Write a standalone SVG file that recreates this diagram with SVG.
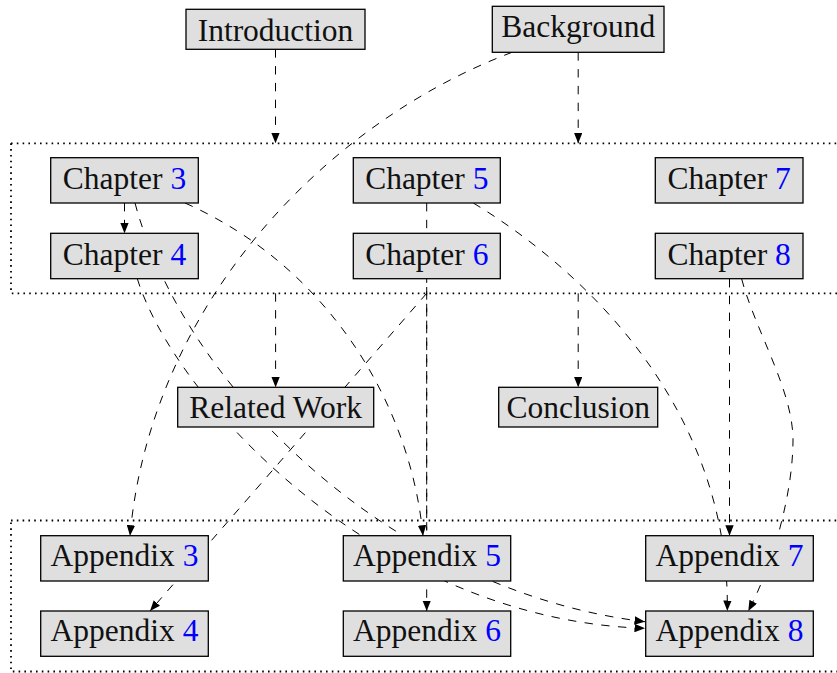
<svg xmlns="http://www.w3.org/2000/svg" width="837" height="673" viewBox="0 0 837 673">
<style>
.box{fill:#dfdfdf;stroke:#000;stroke-width:1.3}
.lbl{font-family:"Liberation Serif","Times New Roman",serif;font-size:31.5px;fill:#111;text-anchor:middle}
.num{fill:#0000ff}
.edge{fill:none;stroke:#000;stroke-width:1;stroke-dasharray:8.4 8.4}
.arr{marker-end:url(#ah)}
.group{fill:none;stroke:#000;stroke-width:1.8;stroke-dasharray:1.6 4.2}
</style>
<defs>
<marker id="ah" markerUnits="userSpaceOnUse" viewBox="0 0 10 8" refX="10" refY="4" markerWidth="10.5" markerHeight="8.5" orient="auto">
<path d="M0,0 L10,4 L0,8 z" fill="#000"/>
</marker>
</defs>
<rect width="837" height="673" fill="#fff"/>
<g id="containers">
<rect id="chapters" class="group" x="11" y="143.3" width="831" height="150"/>
<rect id="appendices" class="group" x="11" y="520.5" width="831" height="151"/>
</g>
<g id="connectors">
<path class="edge arr" d="M275.5,49.3 L275.5,143.3"/>
<path class="edge arr" d="M578.2,52.3 L578.2,143.3"/>
<path class="edge arr" d="M512,52.3 C320,125 150,310 130,535.7"/>
<path class="edge arr" d="M124.5,203 L124.5,233.3"/>
<path class="edge arr" d="M135,203 C185,390 395,592 645,621.7"/>
<path class="edge arr" d="M137.3,278.7 C175,400 380,620 645,628.3"/>
<path class="edge arr" d="M185,203 C325,265 410,400 423,535.7"/>
<path class="edge arr" d="M426.7,293.3 L150,611"/>
<path class="edge arr" d="M275.6,293.3 L275.6,387.3"/>
<path class="edge arr" d="M578.2,293.3 L578.2,387.3"/>
<path class="edge arr" d="M426.7,203 L426.7,611"/>
<path class="edge" style="stroke-dashoffset:4.2" d="M426.7,278.7 L426.7,530"/>
<path class="edge arr" d="M473.3,203 C600,280 730,420 727.3,611"/>
<path class="edge arr" d="M729.5,279 L729.5,535.7"/>
<path class="edge arr" d="M741.7,279 C755,330 793,390 793,440 C793,490 775,560 748.3,611"/>
</g>
<g id="introduction"><rect class="box" x="186" y="9.3" width="179" height="40"/><text class="lbl" x="275.5" y="40.7">Introduction</text></g>
<g id="background"><rect class="box" x="492.3" y="6.3" width="171.7" height="46"/><text class="lbl" x="578.2" y="37.3">Background</text></g>
<g id="chapter3"><rect class="box" x="50.7" y="157.7" width="147.6" height="45.3"/><text class="lbl" x="124.5" y="189">Chapter <tspan class="num">3</tspan></text></g>
<g id="chapter4"><rect class="box" x="50.7" y="233.3" width="147.6" height="45.4"/><text class="lbl" x="124.5" y="264.7">Chapter <tspan class="num">4</tspan></text></g>
<g id="chapter5"><rect class="box" x="353.3" y="157.7" width="147" height="45.3"/><text class="lbl" x="426.8" y="189">Chapter <tspan class="num">5</tspan></text></g>
<g id="chapter6"><rect class="box" x="353.3" y="233.3" width="147" height="45.4"/><text class="lbl" x="426.8" y="264.7">Chapter <tspan class="num">6</tspan></text></g>
<g id="chapter7"><rect class="box" x="655.3" y="157.7" width="147.7" height="45.3"/><text class="lbl" x="729.2" y="189">Chapter <tspan class="num">7</tspan></text></g>
<g id="chapter8"><rect class="box" x="655.3" y="233.3" width="147.7" height="45.4"/><text class="lbl" x="729.2" y="264.7">Chapter <tspan class="num">8</tspan></text></g>
<g id="related-work"><rect class="box" x="177.7" y="387.3" width="196" height="39.7"/><text class="lbl" x="275.7" y="418.3">Related Work</text></g>
<g id="conclusion"><rect class="box" x="498.7" y="387.3" width="159" height="39.7"/><text class="lbl" x="578.2" y="418.3">Conclusion</text></g>
<g id="appendix3"><rect class="box" x="40.7" y="535.7" width="167.6" height="45.3"/><text class="lbl" x="124.5" y="566">Appendix <tspan class="num">3</tspan></text></g>
<g id="appendix4"><rect class="box" x="40.7" y="611" width="167.6" height="45.3"/><text class="lbl" x="124.5" y="641">Appendix <tspan class="num">4</tspan></text></g>
<g id="appendix5"><rect class="box" x="343.3" y="535.7" width="167.4" height="45.3"/><text class="lbl" x="427" y="566">Appendix <tspan class="num">5</tspan></text></g>
<g id="appendix6"><rect class="box" x="343.3" y="611" width="167.4" height="45.3"/><text class="lbl" x="427" y="641">Appendix <tspan class="num">6</tspan></text></g>
<g id="appendix7"><rect class="box" x="645.7" y="535.7" width="167.6" height="45.3"/><text class="lbl" x="729.5" y="566">Appendix <tspan class="num">7</tspan></text></g>
<g id="appendix8"><rect class="box" x="645.7" y="611" width="167.6" height="45.3"/><text class="lbl" x="729.5" y="641">Appendix <tspan class="num">8</tspan></text></g>
</svg>
